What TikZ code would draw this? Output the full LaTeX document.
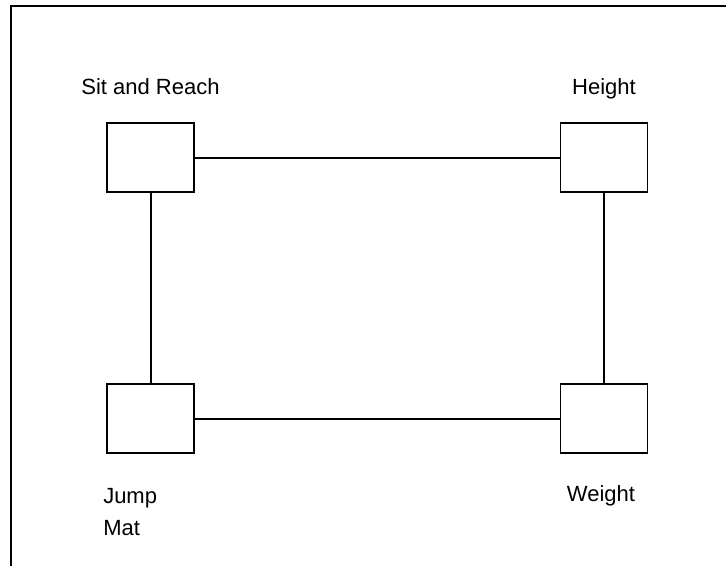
\documentclass[tikz,border=0pt]{standalone}
\usepackage{fontspec}
\setmainfont{Liberation Sans}
\usetikzlibrary{positioning}
\tikzset{
  station/.style={draw=black, line width=1.9pt, minimum width=87pt, minimum height=69pt, inner sep=0pt},
  link/.style={draw=black, line width=2pt},
  tag/.style={font=\fontsize{22}{32}\selectfont, inner sep=0pt, align=left}
}
\begin{document}
\begin{tikzpicture}[x=1pt, y=-1pt]
  \useasboundingbox (0,0) rectangle (726,566);
  % page frame, top and left edges
  \draw[line width=2pt] (11,566) -- (11,6) -- (726,6);

  % test stations
  \node[station] (sit) at (150.5,157.5) {};
  \node[station] (height) at (604,157.5) {};
  \node[station] (jump) at (150.5,418.5) {};
  \node[station] (weight) at (604,418.5) {};

  \node[tag, above=28pt of sit, anchor=base] (sitlbl) {Sit and Reach};
  \node[tag, above=28pt of height, anchor=base] (heightlbl) {Height};
  \node[tag, below=34pt of jump.south west, anchor=north west, xshift=-3pt] (jumplbl) {Jump\\Mat};
  \node[tag, below=48pt of weight, anchor=base, xshift=-3pt] (weightlbl) {Weight};

  % circuit
  \draw[link] (sit) -- (height);
  \draw[link] (height) -- (weight);
  \draw[link] (weight) -- (jump);
  \draw[link] (jump) -- (sit);
\end{tikzpicture}
\end{document}
